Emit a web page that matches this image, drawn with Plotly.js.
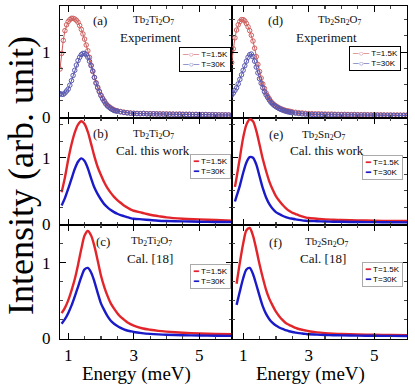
<!DOCTYPE html>
<html>
<head>
<meta charset="utf-8">
<script src="https://cdn.plot.ly/plotly-3.0.1.min.js"></script>
<style>html,body{margin:0;padding:0;background:#fff;}#chart{width:415px;height:390px;}</style>
</head>
<body>
<div id="chart"></div>
<script>
// ---------- DATA ----------
// (a) Tb2Ti2O7 experiment
const E_expA = [0.75,0.80,0.85,0.90,0.95,1.00,1.05,1.10,1.15,1.20,1.25,1.30,1.35,1.40,1.45,1.50,1.55,1.60,1.65,1.70,1.75,1.80,1.85,1.90,1.95,2.00,2.05,2.10,2.15,2.20,2.25,2.30,2.35,2.40,2.45,2.50,2.6,2.7,2.8,2.9,3.0,3.1,3.2,3.3,3.4,3.5,3.6,3.7,3.8,3.9,4.0,4.1,4.2,4.3,4.4,4.5,4.6,4.7,4.8,4.9,5.0,5.1,5.2,5.3,5.4,5.5,5.6,5.7,5.8,5.9,6.0];
const A_T15 = [0.74,0.98,1.18,1.33,1.42,1.47,1.50,1.52,1.52,1.51,1.49,1.46,1.41,1.35,1.28,1.20,1.11,1.02,0.92,0.80,0.70,0.61,0.53,0.46,0.40,0.34,0.29,0.25,0.21,0.18,0.16,0.14,0.125,0.11,0.10,0.095,0.085,0.075,0.068,0.062,0.058,0.056,0.054,0.057,0.052,0.053,0.050,0.051,0.048,0.049,0.046,0.047,0.045,0.044,0.046,0.043,0.042,0.043,0.040,0.041,0.039,0.038,0.039,0.036,0.037,0.035,0.034,0.035,0.033,0.032,0.031];
const A_T30 = [0.36,0.35,0.35,0.37,0.40,0.43,0.49,0.56,0.64,0.72,0.80,0.87,0.92,0.96,0.98,0.98,0.96,0.92,0.86,0.79,0.71,0.61,0.52,0.45,0.39,0.33,0.28,0.24,0.20,0.17,0.15,0.13,0.115,0.10,0.095,0.09,0.08,0.07,0.063,0.058,0.055,0.052,0.050,0.053,0.048,0.047,0.049,0.045,0.046,0.043,0.044,0.042,0.043,0.040,0.041,0.039,0.040,0.038,0.037,0.038,0.036,0.035,0.036,0.034,0.033,0.034,0.032,0.031,0.032,0.030,0.030];
// (d) Tb2Sn2O7 experiment
const E_expD = [0.65,0.70,0.75,0.80,0.85,0.90,0.95,1.00,1.05,1.10,1.15,1.20,1.25,1.30,1.35,1.40,1.45,1.50,1.55,1.60,1.65,1.70,1.75,1.80,1.85,1.90,1.95,2.00,2.05,2.10,2.15,2.20,2.25,2.30,2.35,2.40,2.45,2.50,2.6,2.7,2.8,2.9,3.0,3.1,3.2,3.3,3.4,3.5,3.6,3.7,3.8,3.9,4.0,4.1,4.2,4.3,4.4,4.5,4.6,4.7,4.8,4.9,5.0,5.1,5.2,5.3,5.4,5.5,5.6,5.7,5.8,5.9,6.0];
const D_T15 = [0.84,1.05,1.22,1.34,1.42,1.47,1.50,1.50,1.48,1.44,1.39,1.33,1.26,1.17,1.06,0.93,0.81,0.70,0.60,0.51,0.44,0.37,0.32,0.28,0.24,0.21,0.19,0.17,0.155,0.14,0.128,0.117,0.108,0.10,0.095,0.09,0.085,0.08,0.073,0.067,0.062,0.057,0.053,0.051,0.049,0.050,0.047,0.046,0.044,0.045,0.042,0.041,0.040,0.041,0.039,0.038,0.039,0.037,0.036,0.037,0.035,0.034,0.035,0.033,0.034,0.032,0.031,0.032,0.030,0.031,0.029,0.030,0.029];
const D_T30 = [0.34,0.37,0.41,0.45,0.51,0.58,0.65,0.72,0.79,0.86,0.92,0.96,0.97,0.93,0.86,0.77,0.68,0.59,0.52,0.45,0.39,0.34,0.30,0.26,0.225,0.20,0.178,0.16,0.145,0.13,0.118,0.107,0.098,0.09,0.083,0.077,0.072,0.067,0.06,0.054,0.049,0.045,0.042,0.040,0.039,0.037,0.038,0.036,0.035,0.034,0.035,0.033,0.032,0.031,0.032,0.030,0.031,0.029,0.030,0.028,0.029,0.028,0.027,0.027,0.026,0.027,0.025,0.026,0.025,0.024,0.025,0.024,0.024];
// calculated curves
const E_cal = [0.8,0.9,1.0,1.1,1.2,1.3,1.4,1.5,1.6,1.7,1.8,1.9,2.0,2.1,2.2,2.3,2.4,2.5,2.6,2.7,2.8,2.9,3.0,3.25,3.5,3.75,4.0,4.5,5.0,5.5,6.0];
const E_calE = [0.75,0.8,0.9,1.0,1.1,1.2,1.3,1.4,1.5,1.6,1.7,1.8,1.9,2.0,2.1,2.2,2.3,2.4,2.5,2.6,2.7,2.8,2.9,3.0,3.25,3.5,3.75,4.0,4.5,5.0,5.5,6.0];
// (b) Tb2Ti2O7 this work
const B_T15 = [0.48,0.70,0.97,1.20,1.38,1.50,1.55,1.51,1.39,1.21,1.02,0.86,0.74,0.63,0.54,0.47,0.41,0.36,0.32,0.28,0.25,0.22,0.20,0.17,0.14,0.12,0.10,0.08,0.07,0.06,0.05];
const B_T30 = [0.28,0.39,0.53,0.68,0.83,0.94,0.99,0.95,0.84,0.69,0.55,0.45,0.37,0.30,0.25,0.21,0.18,0.155,0.135,0.12,0.105,0.09,0.08,0.07,0.06,0.05,0.045,0.04,0.035,0.03,0.03];
// (e) Tb2Sn2O7 this work
const E_T15 = [0.56,0.70,1.00,1.30,1.50,1.58,1.55,1.41,1.20,0.98,0.80,0.64,0.52,0.42,0.35,0.29,0.24,0.20,0.17,0.15,0.13,0.115,0.10,0.09,0.08,0.07,0.065,0.06,0.055,0.05,0.045,0.045];
const E_T30 = [0.34,0.42,0.58,0.77,0.93,1.01,1.00,0.90,0.72,0.54,0.40,0.30,0.23,0.18,0.15,0.125,0.105,0.09,0.08,0.07,0.062,0.055,0.05,0.046,0.042,0.038,0.035,0.033,0.03,0.028,0.026,0.025];
// (c) Tb2Ti2O7 Cal. [18]
const C_T15 = [0.33,0.40,0.50,0.63,0.78,0.97,1.18,1.36,1.42,1.36,1.22,1.03,0.83,0.68,0.56,0.46,0.39,0.33,0.28,0.245,0.21,0.185,0.165,0.13,0.11,0.095,0.085,0.07,0.06,0.055,0.05];
const C_T30 = [0.19,0.25,0.33,0.43,0.55,0.68,0.81,0.91,0.93,0.87,0.75,0.60,0.46,0.37,0.29,0.23,0.19,0.16,0.135,0.115,0.10,0.09,0.08,0.065,0.055,0.048,0.043,0.037,0.033,0.03,0.028];
// (f) Tb2Sn2O7 Cal. [18]
const F_T15 = [0.72,1.00,1.25,1.43,1.46,1.36,1.18,0.98,0.80,0.64,0.52,0.43,0.35,0.29,0.24,0.20,0.175,0.155,0.135,0.12,0.11,0.10,0.09,0.075,0.065,0.058,0.053,0.047,0.043,0.04,0.038];
const F_T30 = [0.44,0.62,0.79,0.91,0.93,0.85,0.71,0.56,0.42,0.32,0.25,0.20,0.165,0.14,0.12,0.105,0.09,0.08,0.072,0.065,0.06,0.055,0.05,0.045,0.04,0.037,0.035,0.032,0.03,0.028,0.027];

const seriesNames = ['T=1.5K','T=30K'];
const panelLabels = ['(a)','(d)','(b)','(e)','(c)','(f)'];
const compounds = ['Tb<sub>2</sub>Ti<sub>2</sub>O<sub>7</sub>','Tb<sub>2</sub>Sn<sub>2</sub>O<sub>7</sub>'];
const subtitles = ['Experiment','Experiment','Cal. this work','Cal. this work','Cal. [18]','Cal. [18]'];
const xTicks = [1,3,5];
const yTicks = [0,1];
const xTitle = 'Energy (meV)';
const yTitle = 'Intensity (arb. unit)';

// ---------- LAYOUT GEOMETRY (pixels) ----------
const L=60, R=407, T=6, B=339, XM=232;
const rowPx = [6,118,225,339];
const px = x => (x-L)/(R-L);
const py = y => (B-y)/(B-T);
const serif = 'Liberation Serif, Times New Roman, serif';
const sans = 'Liberation Sans, Arial, sans-serif';

const expRed = '#cf5f5f', expBlue = '#5858b0';
const calRed = '#e2252b', calBlue = '#1a1ac8';

const panels = [
  {x:E_expA, y:[A_T15,A_T30], exp:true},
  {x:E_expD, y:[D_T15,D_T30], exp:true},
  {x:E_cal, y:[B_T15,B_T30]},
  {x:E_calE, y:[E_T15,E_T30]},
  {x:E_cal, y:[C_T15,C_T30]},
  {x:E_cal, y:[F_T15,F_T30]}
];
const yRanges = [[-0.015,1.71],[-0.015,1.6],[-0.013,1.5]];
const xRanges = [[0.75,6.0],[0.66,6.0]];

const data = [];
const layout = {
  width:415, height:390,
  margin:{l:L, r:415-R, t:T, b:390-B, pad:0},
  paper_bgcolor:'#fff', plot_bgcolor:'#fff',
  showlegend:false,
  annotations:[]
};

// legend boxes: [right px, top px]
const legPos = [[231,47],[401,46],[231,154],[403,155],[231,264],[403,262]];

panels.forEach((p,i)=>{
  const r = Math.floor(i/2), c = i%2;
  const n = i+1;
  const xa = n===1?'x':'x'+n, ya = n===1?'y':'y'+n;
  const cols = p.exp ? [expRed,expBlue] : [calRed,calBlue];
  p.y.forEach((ys,k)=>{
    const tr = {x:p.x, y:ys, xaxis:xa, yaxis:ya, name:seriesNames[k], showlegend:false, type:'scatter'};
    if (p.exp) {
      tr.mode='lines+markers';
      tr.line={color:cols[k], width:1};
      tr.marker={symbol:'circle-open', size:4.5, color:cols[k], line:{width:1, color:cols[k]}};
    } else {
      tr.mode='lines';
      tr.line={color:cols[k], width:2.4, shape:'spline', smoothing:0.8};
    }
    data.push(tr);
  });
  const xd = c===0 ? [0, px(XM)] : [px(XM), 1];
  const yd = [py(rowPx[r+1]), py(rowPx[r])];
  layout['xaxis'+(n===1?'':n)] = {
    domain:xd, range:xRanges[c], anchor:ya,
    showline:true, mirror:'ticks', linecolor:'#000', linewidth:1.2,
    ticks:'inside', tickmode:'array', tickvals:xTicks, ticklen:6, tickcolor:'#000', tickwidth:1.2,
    minor:{ticks:'inside', ticklen:3, dtick:0.5, tick0:0, tickcolor:'#444'},
    showticklabels: r===2, ticklabelstandoff:0,
    tickfont:{family:serif, size:17, color:'#000'},
    showgrid:false, zeroline:false, fixedrange:true
  };
  layout['yaxis'+(n===1?'':n)] = {
    domain:yd, range:yRanges[r], anchor:xa,
    showline:true, mirror:'ticks', linecolor:'#000', linewidth:1.2,
    ticks:'inside', tickmode:'array', tickvals:yTicks, ticklen:6, tickcolor:'#000', tickwidth:1.2,
    minor:{ticks:'inside', ticklen:3, dtick:0.25, tick0:0, tickcolor:'#444'},
    showticklabels: c===0, ticklabelstandoff:5,
    tickfont:{family:serif, size:17, color:'#000'},
    showgrid:false, zeroline:false, fixedrange:true
  };
  // legend built as a boxed text annotation
  const sym = p.exp ? '─○─' : '<b>━</b>';
  const legText = seriesNames.map((nm,k)=>'<span style="color:'+cols[k]+'">'+sym+'</span> '+nm).join('<br>');
  layout.annotations.push({
    text:legText, x:px(legPos[i][0]), y:py(legPos[i][1]), xref:'paper', yref:'paper',
    xanchor:'right', yanchor:'top', align:'left', showarrow:false,
    bgcolor:'#fff', bordercolor: p.exp ? '#000' : '#aaa', borderwidth:1, borderpad:2,
    font:{family:sans, size:8, color:'#000'}
  });
});

// panel text
const txt = [
  [[100,20],[153,20],[150,37]],
  [[275,20],[340,20],[326,37]],
  [[100,133],[153,134],[153,151]],
  [[276,134],[324,135],[327,151]],
  [[103,241],[151,241],[150,258]],
  [[275,242],[327,242],[323,258]]
];
txt.forEach((t,i)=>{
  const c = i%2;
  const ann = (s,pos,size)=>({text:s, x:px(pos[0]), y:py(pos[1]), xref:'paper', yref:'paper',
    showarrow:false, xanchor:'center', yanchor:'middle', font:{family:serif, size:size, color:'#111'}});
  layout.annotations.push(ann(panelLabels[i], t[0], 13));
  layout.annotations.push(ann(compounds[c], t[1], 11));
  layout.annotations.push(ann(subtitles[i], t[2], 13));
});
// axis titles
layout.annotations.push({text:yTitle, x:px(21), y:py(176), xref:'paper', yref:'paper', showarrow:false,
  textangle:-90, xanchor:'center', yanchor:'middle', font:{family:serif, size:36, color:'#000'}});
layout.annotations.push({text:xTitle, x:px(136), y:py(374), xref:'paper', yref:'paper', showarrow:false,
  xanchor:'center', yanchor:'middle', font:{family:serif, size:19, color:'#000'}});
layout.annotations.push({text:xTitle, x:px(310), y:py(374), xref:'paper', yref:'paper', showarrow:false,
  xanchor:'center', yanchor:'middle', font:{family:serif, size:19, color:'#000'}});

Plotly.newPlot('chart', data, layout, {displayModeBar:false, staticPlot:true});
</script>
</body>
</html>
